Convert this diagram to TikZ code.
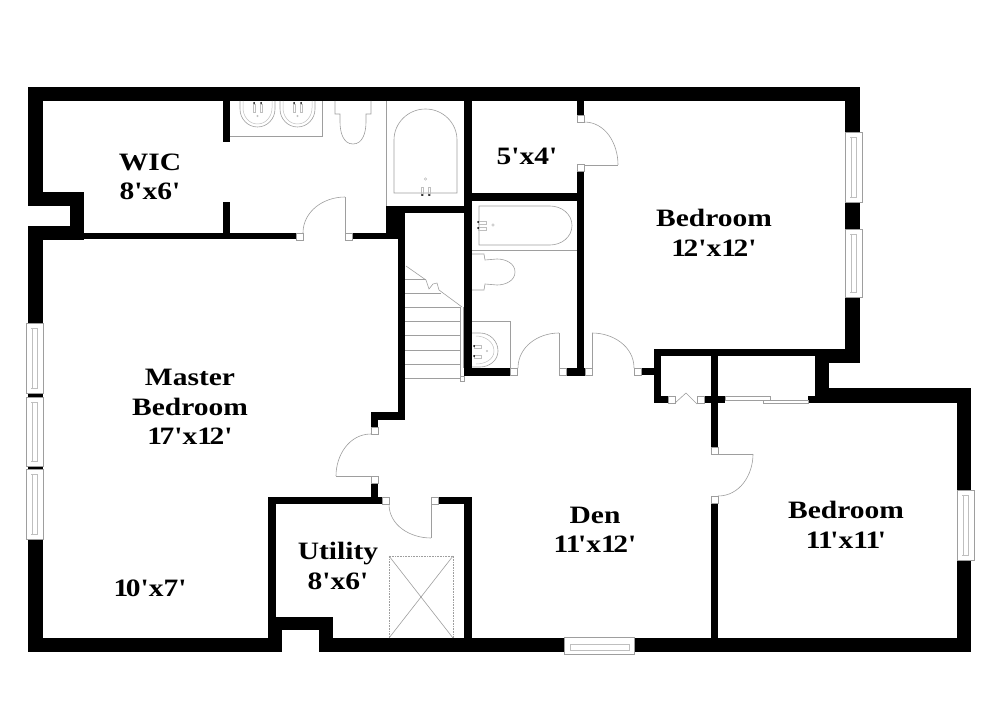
\documentclass[tikz,border=0pt]{standalone}
\usepackage{fontspec}
\newfontfamily\roomfont{Liberation Serif}[FakeStretch=1.18]
\newcommand{\lone}{1\kern-2.5pt}
\begin{document}
\begin{tikzpicture}[
    x=1pt,y=-1pt,
    thin_line/.style={draw=black!38,line width=0.6pt},
    pale_line/.style={draw=black!25,line width=0.5pt},
    door_post/.style={draw=black!38,line width=0.6pt,fill=white},
    window_box/.style={draw=black!38,line width=0.6pt,fill=white},
    room_label/.style={inner sep=0pt,align=center,font=\roomfont\bfseries\fontsize{25}{29.5}\selectfont}
]
\useasboundingbox (0,0) rectangle (1000,727);

% Walls: left, top, right, bottom corners
\foreach \xa/\ya/\xb/\yb in {
    28/87/860/101, 28/87/43/206, 28/192/84/206, 70/192/84/240, 28/226/84/240, 28/226/43/652,
    845/87/860/363, 815/349/860/363, 815/349/829/403, 808/396/829/403,
    815/388/971/403, 957/388/971/652,
    28/638/282/652, 268/497/276/638, 268/617/333/630, 268/630/282/652, 319/617/333/652,
    319/638/971/652}
    \fill[black] (\xa,\ya) rectangle (\xb,\yb);

% Walls: inside
\foreach \xa/\ya/\xb/\yb in {
    84/233/296/239, 352/233/404/239, 223/101/230/142, 223/202/230/233,
    386/206/405/239, 386/206/464/213, 398/206/405/420, 371/412/405/420, 371/412/378/427, 371/483/378/497,
    268/497/382/504, 438/497/472/504, 464/497/472/638,
    464/101/472/376, 464/368/510/376, 472/193/577/201,
    577/101/584/115, 577/171/584/376, 566/368/585/376, 641/368/655/375,
    654/349/815/356, 654/349/661/403, 654/396/668/403, 703/396/725/403,
    711/349/718/447, 711/503/718/638}
    \fill[black] (\xa,\ya) rectangle (\xb,\yb);

% Windows, upright
\foreach \wx/\wy/\wz in {26/323/393, 26/397/466, 26/469/539, 845/132/202, 845/229/297, 957/490/560} {
    \draw[window_box] (\wx,\wy) rectangle (\wx+17,\wz);
    \draw[pale_line] (\wx+6,\wy+5) -- (\wx+6,\wz-5) (\wx+11,\wy+5) -- (\wx+11,\wz-5)
        (\wx+5,\wy+5) -- (\wx+12,\wy+5) (\wx+5,\wz-5) -- (\wx+12,\wz-5);
}
% Window, lying
\draw[window_box] (564,637) rectangle (634,654);
\draw[pale_line] (570,644) rectangle (629,650);
% Sliding door
\draw[window_box] (725,396) rectangle (770,400);
\draw[window_box] (763,400) rectangle (808,403);

% Door posts
\foreach \px/\py in {296/233, 345/233, 577/115, 577/164, 510/368, 559/368, 585/368, 634/368,
    668/396, 697/396, 711/447, 711/496, 371/427, 371/476, 382/497, 431/497}
    \draw[door_post] (\px,\py) rectangle (\px+7,\py+7);

% Door swings: free end, out, in, far end
\foreach \xa/\ya/\o/\i/\xb/\yb in {
    303/233/90/180/345/197, 618/165/90/0/584/122,
    518/368/90/180/559/333, 634/368/90/0/592/333,
    718/496/0/270/753/454, 336/476/90/180/371/434,
    389/504/270/180/431/538}
    \draw[thin_line] (\xa,\ya) to[out=\o,in=\i] (\xb,\yb);
% Door leaves
\draw[thin_line] (345,197) -- (345,233) (559,333) -- (559,368) (592,333) -- (592,368)
    (718,454) -- (753,454) (431,504) -- (431,538) (584,165) -- (618,165) (336,476) -- (371,476);
% Folding door
\draw[thin_line] (675,403) -- (686,393) -- (697,404);

% Vanity and sinks, upper bath
\draw[thin_line] (230,136) -- (322,136) -- (322,101);
\foreach \sx in {240,280} {
    \draw[thin_line] (\sx,101) -- (\sx,109) to[out=270,in=180] (\sx+17.5,127) to[out=0,in=270] (\sx+35,109) -- (\sx+35,101);
    \draw[pale_line] (\sx+3,101) -- (\sx+3,108) to[out=270,in=180] (\sx+17.5,124) to[out=0,in=270] (\sx+32,108) -- (\sx+32,101);
    \draw[pale_line] (\sx+13,104) rectangle (\sx+15,112) (\sx+20,104) rectangle (\sx+22,112);
    \fill[black] (\sx+14,103) circle (1) (\sx+21,103) circle (1);
    \draw[pale_line] (\sx+17.5,116) circle (0.8);
}
% Toilet, upper bath
\draw[thin_line] (335,101) -- (335,114) -- (340,114) -- (340,122) to[out=270,in=180] (353,144)
    to[out=0,in=270] (366,122) -- (366,114) -- (371,114) -- (371,101);
% Tub, upper bath
\draw[thin_line] (386,101) -- (386,206);
\draw[thin_line] (394,193) -- (394,140) to[out=90,in=180] (425.5,109) to[out=0,in=90] (457,140) -- (457,193) -- cycle;
\draw[pale_line] (421,187) rectangle (423,195) (428,187) rectangle (430,195);
\fill[black] (422,195) circle (1) (429,195) circle (1);
\draw[pale_line] (425.5,179) circle (1.2);

% Tub, lower bath
\draw[thin_line] (472,250) -- (577,250);
\draw[thin_line] (479,206) -- (550,206) to[out=0,in=90] (572,225.5) to[out=270,in=0] (550,245) -- (479,245) -- cycle;
\draw[pale_line] (478,221) rectangle (486,224) (478,227) rectangle (486,230);
\fill[black] (478,222) circle (1) (478,228) circle (1);
\draw[pale_line] (493,225) circle (1.2);
% Toilet, lower bath
\draw[thin_line] (472,254) -- (484,254) -- (485,260) -- (497,259) to[out=0,in=90] (515,272)
    to[out=270,in=0] (497,285) -- (485,284) -- (484,290) -- (472,290);
% Sink, lower bath
\draw[thin_line] (472,321) -- (510,321) -- (510,368);
\draw[thin_line] (472,333) -- (480,333) to[out=0,in=90] (498,351) to[out=270,in=0] (480,367) -- (472,367);
\draw[pale_line] (476,336) to[out=0,in=90] (494,351) to[out=270,in=0] (476,364);
\draw[pale_line] (474,345) rectangle (481,348) (474,355) rectangle (481,358);
\fill[black] (474,346) circle (1) (474,356) circle (1);
\draw[pale_line] (487,351) circle (0.8);

% Stairs
\draw[thin_line] (405,279) -- (426,279) (405,293) -- (441,293);
\foreach \sy in {307,321,335,350,364,378}
    \draw[thin_line] (405,\sy) -- (460,\sy);
\draw[thin_line] (406,266) -- (426,280) -- (429,289) -- (433,284) -- (437,283) -- (439,290) -- (462,307);
\draw[thin_line] (460,307) -- (460,376) (463,307) -- (463,368);
\draw[door_post] (460,376) rectangle (464,381);

% Utility hatch
\draw[thin_line,densely dotted] (389,638) -- (389,556) -- (453,556) -- (453,638);
\draw[thin_line] (389,556) -- (453,638) (453,556) -- (389,638);

% Room labels
\node[room_label] (wic_label) at (150,177) {WIC\\8'x6'};
\node[room_label] (closet_label) at (527,156) {5'x4'};
\node[room_label] (bedroom_top_label) at (714,233) {Bedroom\\\lone2'x\lone2'};
\node[room_label] (master_label) at (190,407) {Master\\Bedroom\\\lone7'x\lone2'};
\node[room_label] (sitting_label) at (150,588) {\lone0'x7'};
\node[room_label] (utility_label) at (338,566) {Utility\\8'x6'};
\node[room_label] (den_label) at (595,530) {Den\\\lone\lone'x\lone2'};
\node[room_label] (bedroom_right_label) at (846,525) {Bedroom\\\lone\lone'x\lone\lone'};

\end{tikzpicture}
\end{document}
